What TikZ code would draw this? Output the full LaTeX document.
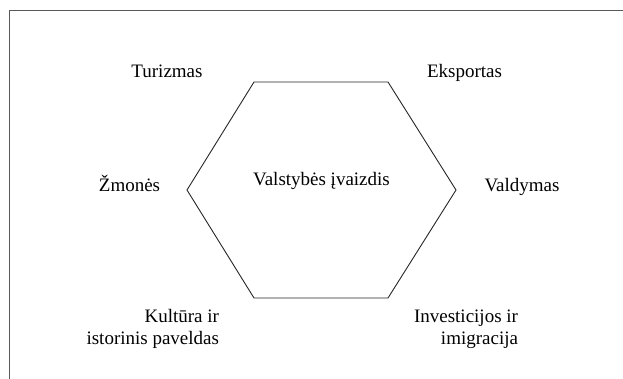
\documentclass[tikz,border=0pt]{standalone}
\usepackage{fontspec}
\setmainfont{Liberation Serif}
\begin{document}
\begin{tikzpicture}[x=1pt,y=-1pt,
  lbl/.style={inner sep=0pt,outer sep=0pt,font=\fontsize{19}{22}\selectfont},
  frameline/.style={draw=black!65,line width=1pt},
  hexline/.style={draw=black!85,line width=0.9pt,line join=miter}]
\useasboundingbox (0,0) rectangle (623,379);
% frame
\coordinate (ftr) at (623,11);
\coordinate (ftl) at (9,11);
\coordinate (fbl) at (9,379);
\draw[frameline] (ftr) -- (ftl) -- (fbl);
% hexagon
\coordinate (h1) at (254,82);
\coordinate (h2) at (388,82);
\coordinate (h3) at (456,190);
\coordinate (h4) at (388,298);
\coordinate (h5) at (254,298);
\coordinate (h6) at (187,190);
\draw[hexline] (h1) -- (h2) -- (h3) -- (h4) -- (h5) -- (h6) -- cycle;
% labels
\node[lbl,anchor=base] (center) at (321.5,186) {Valstybės įvaizdis};
\node[lbl,anchor=base] (tur) at (167,78) {Turizmas};
\node[lbl,anchor=base] (eks) at (464.5,78) {Eksportas};
\node[lbl,anchor=base] (zmo) at (129.5,192) {Žmonės};
\node[lbl,anchor=base] (val) at (522,192) {Valdymas};
\node[lbl,anchor=base east,align=right] (kul) at (219,344) {Kultūra ir\\istorinis paveldas};
\node[lbl,anchor=base east,align=right] (inv) at (518,344) {Investicijos ir\\imigracija};
\end{tikzpicture}
\end{document}
